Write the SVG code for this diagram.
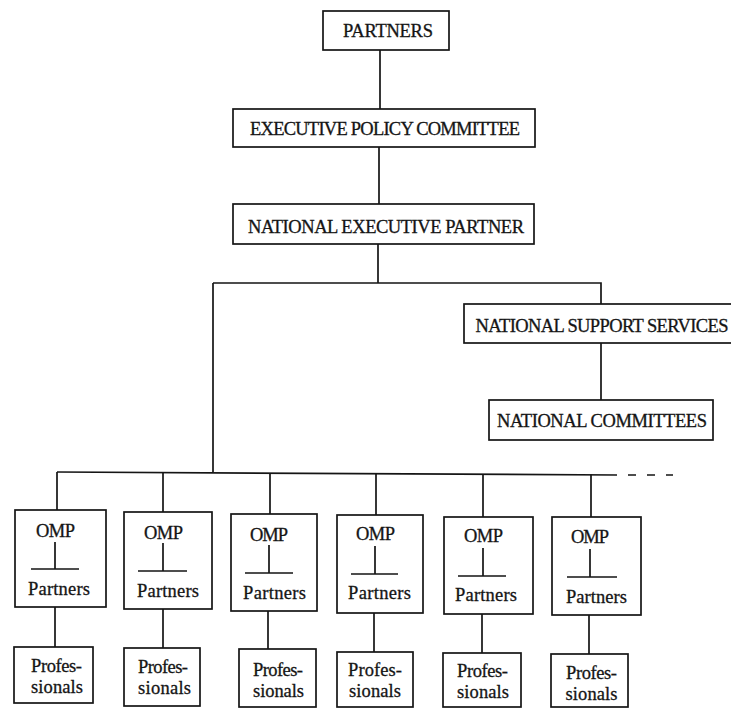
<svg xmlns="http://www.w3.org/2000/svg" width="731" height="708" viewBox="0 0 731 708">
<style>
.box{fill:#fff;stroke:#151515;stroke-width:1.7}
.ln{fill:none;stroke:#151515;stroke-width:1.7}
.t{font-family:"Liberation Serif","Times New Roman",serif;font-size:18.5px;fill:#151515;stroke:#151515;stroke-width:0.3;text-anchor:middle}
</style>
<rect width="731" height="708" fill="#fff"/>
<g id="connectors">
<path class="ln" d="M380 50V109M379 147V204M378 244V283M213 283H601V304M601 343V400M213 283V472"/>
<path class="ln" d="M57 472L617 475"/>
<path class="ln" d="M628 475H636M647 475H655M666 475H673"/>
<path class="ln" d="M57 472V510M163 472.5V512M270 473V514M376 473.5V515M483 474V517M591 474.5V517"/>
<path class="ln" d="M55 607V647M163 609V648M268 611V649M374 613V652M482 614V653M589 615V654"/>
</g>
<g id="partners"><rect class="box" x="323" y="11" width="126" height="39"/><text class="t" x="388" y="37" textLength="90">PARTNERS</text></g>
<g id="epc"><rect class="box" x="233" y="109" width="302" height="38"/><text class="t" x="385" y="135" textLength="270">EXECUTIVE POLICY COMMITTEE</text></g>
<g id="nep"><rect class="box" x="233" y="204" width="301" height="40"/><text class="t" x="386" y="233" textLength="276">NATIONAL EXECUTIVE PARTNER</text></g>
<g id="nss"><rect class="box" x="464" y="304" width="280" height="39"/><text class="t" x="602" y="332" textLength="253">NATIONAL SUPPORT SERVICES</text></g>
<g id="nc"><rect class="box" x="489" y="400" width="224" height="40"/><text class="t" x="602" y="427" textLength="210">NATIONAL COMMITTEES</text></g>
<g id="omp1"><rect class="box" x="15" y="510" width="91" height="97"/><text class="t" x="55.5" y="537" textLength="39">OMP</text><path class="ln" d="M55 542V569M31 569H79"/><text class="t" x="59" y="595" textLength="62">Partners</text></g>
<g id="omp2"><rect class="box" x="124" y="512" width="88" height="97"/><text class="t" x="163.5" y="539" textLength="39">OMP</text><path class="ln" d="M163 543V571M138 571H187"/><text class="t" x="168" y="597" textLength="62">Partners</text></g>
<g id="omp3"><rect class="box" x="231" y="514" width="86" height="97"/><text class="t" x="269" y="541" textLength="38">OMP</text><path class="ln" d="M269 545V573M245 573H293"/><text class="t" x="274.5" y="599" textLength="63">Partners</text></g>
<g id="omp4"><rect class="box" x="337" y="515" width="86" height="98"/><text class="t" x="375.5" y="540" textLength="39">OMP</text><path class="ln" d="M375 546V574M351 574H398"/><text class="t" x="379.5" y="599" textLength="63">Partners</text></g>
<g id="omp5"><rect class="box" x="444" y="517" width="89" height="97"/><text class="t" x="483.5" y="542" textLength="39">OMP</text><path class="ln" d="M483 548V576M458 576H506"/><text class="t" x="486" y="601" textLength="62">Partners</text></g>
<g id="omp6"><rect class="box" x="552" y="517" width="89" height="98"/><text class="t" x="590" y="543" textLength="38">OMP</text><path class="ln" d="M590 549V577M567 577H617"/><text class="t" x="596.5" y="603" textLength="61">Partners</text></g>
<g id="prof1"><rect class="box" x="14" y="647" width="79" height="56"/><text class="t" x="56.5" y="672" textLength="51">Profes-</text><text class="t" x="57" y="693" textLength="52">sionals</text></g>
<g id="prof2"><rect class="box" x="124" y="648" width="76" height="58"/><text class="t" x="163" y="673" textLength="50">Profes-</text><text class="t" x="164.5" y="694" textLength="53">sionals</text></g>
<g id="prof3"><rect class="box" x="239" y="649" width="77" height="58"/><text class="t" x="278" y="676" textLength="50">Profes-</text><text class="t" x="278.5" y="697" textLength="51">sionals</text></g>
<g id="prof4"><rect class="box" x="337" y="652" width="76" height="55"/><text class="t" x="375" y="676" textLength="54">Profes-</text><text class="t" x="375" y="697" textLength="52">sionals</text></g>
<g id="prof5"><rect class="box" x="443" y="653" width="78" height="54"/><text class="t" x="482.5" y="677" textLength="51">Profes-</text><text class="t" x="483" y="698" textLength="52">sionals</text></g>
<g id="prof6"><rect class="box" x="551" y="654" width="77" height="53"/><text class="t" x="591.5" y="679" textLength="51">Profes-</text><text class="t" x="591.5" y="700" textLength="52">sionals</text></g>
</svg>
